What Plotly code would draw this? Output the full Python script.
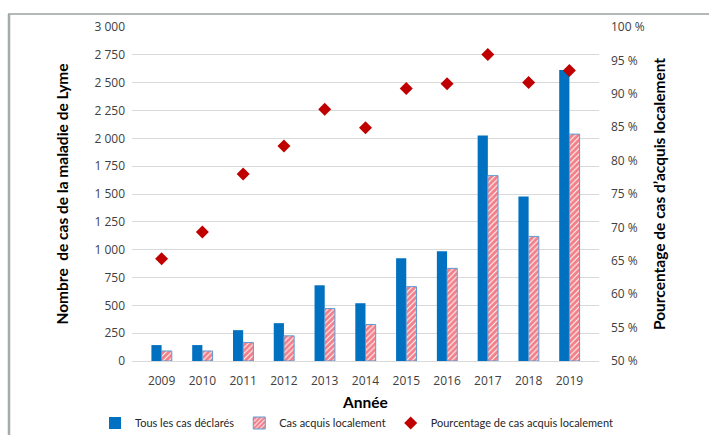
import plotly.graph_objects as go

# Lyme disease cases by year
annees = ["2009", "2010", "2011", "2012", "2013", "2014", "2015", "2016", "2017", "2018", "2019"]
cas_declares = [143, 143, 277, 340, 680, 519, 922, 985, 2025, 1477, 2613]
cas_locaux = [90, 90, 167, 226, 471, 328, 668, 832, 1665, 1119, 2038]
pct_locaux = [65.3, 69.3, 78.0, 82.2, 87.7, 84.9, 90.8, 91.5, 95.9, 91.7, 93.5]

tick_font = dict(family="Open Sans, Lato, sans-serif", size=12, color="#404040")
title_font = dict(family="Lato, sans-serif", size=15.5, color="#000000")

fig = go.Figure()

fig.add_trace(go.Bar(
    x=annees, y=cas_declares, name="Tous les cas déclarés",
    marker=dict(color="#0070c0", line=dict(width=0)),
))
fig.add_trace(go.Bar(
    x=annees, y=cas_locaux, name="Cas acquis localement",
    marker=dict(
        color="white",
        line=dict(color="#5b9bd5", width=1),
        pattern=dict(shape="/", fgcolor="#e60012", bgcolor="white", size=4, solidity=0.75),
    ),
))
fig.add_trace(go.Scatter(
    x=annees, y=pct_locaux, name="Pourcentage de cas acquis localement",
    mode="markers", yaxis="y2",
    marker=dict(symbol="diamond", color="#c00000", size=10),
))

# pixel -> paper helpers for the frame lines and legend
W, H = 709, 435
L, R, T, B = 132, 599, 27, 361
def px(x):
    return (x - L) / (R - L)
def py(y):
    return (B - y) / (B - T)

fig.update_layout(
    width=W, height=H,
    margin=dict(l=L, r=W - R, t=T, b=H - B, autoexpand=False),
    paper_bgcolor="white", plot_bgcolor="white",
    separators=", ",
    barmode="group", bargap=0.5, bargroupgap=0,
    showlegend=True,
    legend=dict(
        orientation="h", x=px(95), xanchor="left", y=py(423), yanchor="middle",
        font=dict(family="Lato, sans-serif", size=11, color="#262626"),
        itemwidth=30, tracegroupgap=0,
    ),
    xaxis=dict(
        type="category", tickfont=tick_font, showgrid=False,
        showline=True, linecolor="#d9d9d9", ticks="", ticklabelstandoff=9,
        title=dict(text="<b>Année</b>", font=title_font, standoff=8),
    ),
    yaxis=dict(
        range=[0, 3000], dtick=250, tickformat=",d", tickfont=tick_font,
        gridcolor="#d9d9d9", zeroline=False, ticks="", ticklabelstandoff=6,
        title=dict(text="<b>Nombre  de cas de la maladie de Lyme</b>", font=title_font, standoff=22),
    ),
    yaxis2=dict(
        overlaying="y", side="right", range=[50, 100], dtick=5,
        ticksuffix=" %", tickfont=tick_font, showgrid=False, zeroline=False, ticks="",
        ticklabelstandoff=11,
        title=dict(text="<b>Pourcentage de cas d’acquis localement</b>", font=title_font, standoff=10),
    ),
    shapes=[
        dict(type="line", xref="paper", yref="paper", x0=px(8), x1=px(709), y0=py(14), y1=py(14),
             line=dict(color="#9aa0a0", width=1.5)),
        dict(type="line", xref="paper", yref="paper", x0=px(9), x1=px(9), y0=py(14), y1=py(435),
             line=dict(color="#a5abab", width=2.5)),
    ],
)

fig.write_html("out.html")
